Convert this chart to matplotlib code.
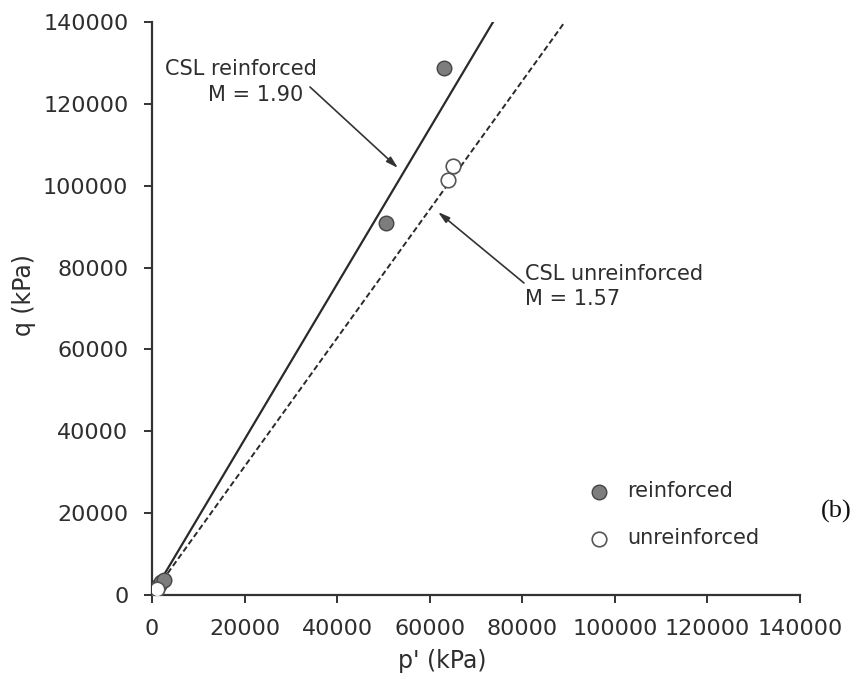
import matplotlib
matplotlib.use("Agg")
import matplotlib.pyplot as plt
import numpy as np

# Data
reinf_p = [300, 700, 1100, 1500, 2000, 2600, 50590, 63130]
reinf_q = [400, 1000, 1700, 2400, 3100, 3700, 90890, 128760]
unreinf_p = [200, 600, 1000, 64000, 65080]
unreinf_q = [300, 900, 1500, 101400, 104820]
M_reinf = 1.90
M_unreinf = 1.57
ticks = [0, 20000, 40000, 60000, 80000, 100000, 120000, 140000]

plt.rcParams['font.family'] = ['DejaVu Sans']
txt = '#2e2e2e'

fig = plt.figure(figsize=(8.58, 6.79), dpi=100)
ax = fig.add_axes([152/858, 1-595/679, 648/858, 573/679])

pline = np.array([0, 140000])
ax.plot(pline, M_reinf*pline, color='#2a2a2a', lw=1.6, zorder=2)
ax.plot(pline, M_unreinf*pline, color='#2a2a2a', lw=1.4, ls=(0, (3, 1.6)), zorder=2)

ax.scatter(reinf_p, reinf_q, s=110, facecolor='#7d7d7d', edgecolor='#444444', lw=1.0,
           zorder=3, label='reinforced')
ax.scatter(unreinf_p, unreinf_q, s=110, facecolor='white', edgecolor='#555555', lw=1.2,
           zorder=3, label='unreinforced')

ax.set_xlim(0, 140000)
ax.set_ylim(0, 140000)
ax.set_xticks(ticks)
ax.set_yticks(ticks)
ax.tick_params(direction='out', length=6, width=1.4, colors='#333333',
               labelsize=16, labelcolor=txt, pad=11)
for s in ['top', 'right']:
    ax.spines[s].set_visible(False)
for s in ['left', 'bottom']:
    ax.spines[s].set_linewidth(1.6)
    ax.spines[s].set_color('#333333')

ax.set_xlabel("p' (kPa)", fontsize=17, color=txt)
ax.set_ylabel("q (kPa)", fontsize=17, color=txt)
ax.xaxis.set_label_coords((442-152)/648, (595-661)/573)
ax.xaxis.label.set_verticalalignment('center')
ax.yaxis.set_label_coords((24-152)/648, (595-295)/573)
ax.yaxis.label.set_verticalalignment('center')
ax.yaxis.label.set_horizontalalignment('center')

def fx(px):
    return px/858
def fy(py):
    return 1-py/679

fig.text(fx(317), fy(69), 'CSL reinforced', ha='right', va='center', fontsize=15, color=txt)
fig.text(fx(303), fy(95), 'M = 1.90', ha='right', va='center', fontsize=15, color=txt)
fig.text(fx(525), fy(274), 'CSL unreinforced', ha='left', va='center', fontsize=15, color=txt)
fig.text(fx(525), fy(299), 'M = 1.57', ha='left', va='center', fontsize=15, color=txt)

ap = dict(arrowstyle='-|>,head_length=0.7,head_width=0.2', color='#333333', lw=1.2,
          shrinkA=0, shrinkB=0)
ax.annotate('', xy=(fx(398), fy(168)), xytext=(fx(310), fy(87)),
            xycoords='figure fraction', textcoords='figure fraction', arrowprops=ap)
ax.annotate('', xy=(fx(438), fy(212)), xytext=(fx(524), fy(283)),
            xycoords='figure fraction', textcoords='figure fraction', arrowprops=ap)

leg = ax.legend(loc='upper left', bbox_to_anchor=(fx(589), fy(481)),
                bbox_transform=fig.transFigure, frameon=False, fontsize=15,
                labelspacing=1.3, handletextpad=0.85, markerscale=1.0,
                borderpad=0, borderaxespad=0, handlelength=1.0)
for t in leg.get_texts():
    t.set_color(txt)

fig.text(fx(836), fy(511), '(b)', ha='center', va='center', fontsize=19,
         family='Liberation Serif', color='#111111')

fig.savefig('out.png', dpi=100)
